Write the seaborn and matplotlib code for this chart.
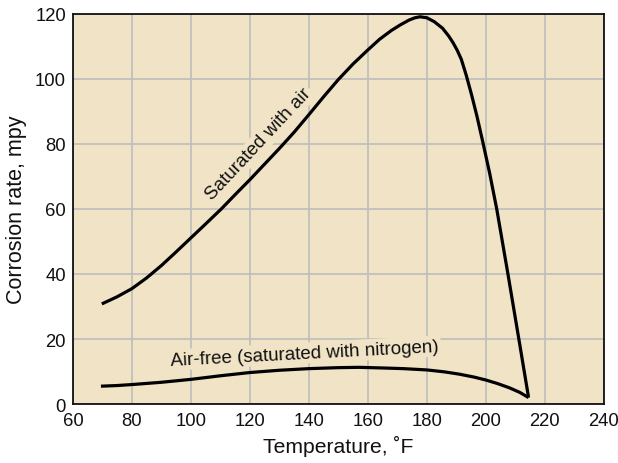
import matplotlib
matplotlib.use("Agg")
import matplotlib.pyplot as plt
import seaborn as sns
import pandas as pd

# --- data ---
air_T = [69.8, 75, 80, 85, 90, 95, 100, 105, 110.3, 115, 120, 125, 130, 135, 140,
         145, 150, 155, 160, 164, 168, 171, 174, 176, 177.7, 180, 182.5, 185.3,
         187.4, 188.9, 190.3, 191.7, 193.4, 195.2, 197, 199, 201.3, 203.7, 207.5,
         211.2, 214.5]
air_rate = [30.8, 33.0, 35.5, 38.8, 42.6, 46.8, 51.1, 55.4, 60.0, 64.4, 69.0, 73.8,
            78.6, 83.6, 89.0, 94.5, 99.8, 104.6, 108.9, 112.2, 114.9, 116.6, 118.1,
            118.8, 119.1, 118.8, 117.6, 115.6, 113.2, 111.1, 108.8, 106.0, 101.0,
            95.0, 88.5, 80.5, 71.0, 60.0, 40.0, 20.0, 2.0]

n2_T = [69.5, 75, 80, 90, 100, 110, 120, 130, 140, 150, 157, 165, 172, 180, 186,
        191, 196, 200, 204, 208, 211.5, 214.5]
n2_rate = [5.5, 5.7, 6.0, 6.7, 7.6, 8.7, 9.7, 10.4, 10.9, 11.2, 11.3, 11.1, 10.9,
           10.5, 9.9, 9.2, 8.3, 7.4, 6.3, 5.0, 3.6, 2.0]

x_ticks = [60, 80, 100, 120, 140, 160, 180, 200, 220, 240]
y_ticks = [0, 20, 40, 60, 80, 100, 120]

BG = "#f0e3c6"

sns.set_theme(style="whitegrid", rc={
    "axes.facecolor": BG,
    "grid.color": "#bdbdbd",
    "grid.linewidth": 1.2,
    "axes.edgecolor": "#111111",
    "axes.linewidth": 1.3,
})
plt.rcParams["font.family"] = ["Liberation Sans", "DejaVu Sans"]

fig = plt.figure(figsize=(6.18, 4.64), dpi=100)
ax = fig.add_axes([0.118, 0.127, 0.859, 0.841])

df_air = pd.DataFrame({"T": air_T, "rate": air_rate})
df_n2 = pd.DataFrame({"T": n2_T, "rate": n2_rate})
sns.lineplot(data=df_air, x="T", y="rate", ax=ax, color="black", lw=2.3,
             sort=False, estimator=None, zorder=5)
sns.lineplot(data=df_n2, x="T", y="rate", ax=ax, color="black", lw=2.3,
             sort=False, estimator=None, zorder=5)
for l in ax.lines:
    l.set_solid_joinstyle("round")
    l.set_solid_capstyle("butt")

ax.set_xlim(60, 240)
ax.set_ylim(0, 120)
ax.set_xticks(x_ticks)
ax.set_yticks(y_ticks)
ax.tick_params(axis="x", length=0, pad=6, labelsize=13.3, colors="#111111")
ax.tick_params(axis="y", length=0, pad=5, labelsize=13.3, colors="#111111")
for s in ax.spines.values():
    s.set_visible(True)
    s.set_color("#111111")

ax.set_xlabel("Temperature, ˚F", fontsize=15.2, color="#111111", labelpad=4)
ax.set_ylabel("Corrosion rate, mpy", fontsize=15.5, color="#111111", labelpad=6)

box = dict(facecolor=BG, edgecolor="none", pad=1.5)
ax.text(123.0, 80.0, "Saturated with air", rotation=47, fontsize=13.5,
        ha="center", va="center", color="#111111", bbox=box, zorder=4,
        rotation_mode="anchor")
ax.text(138.6, 15.7, "Air-free (saturated with nitrogen)", rotation=3, fontsize=13.5,
        ha="center", va="center", color="#111111", bbox=box, zorder=4,
        rotation_mode="anchor")

fig.savefig("out.png", dpi=100, facecolor="white")
